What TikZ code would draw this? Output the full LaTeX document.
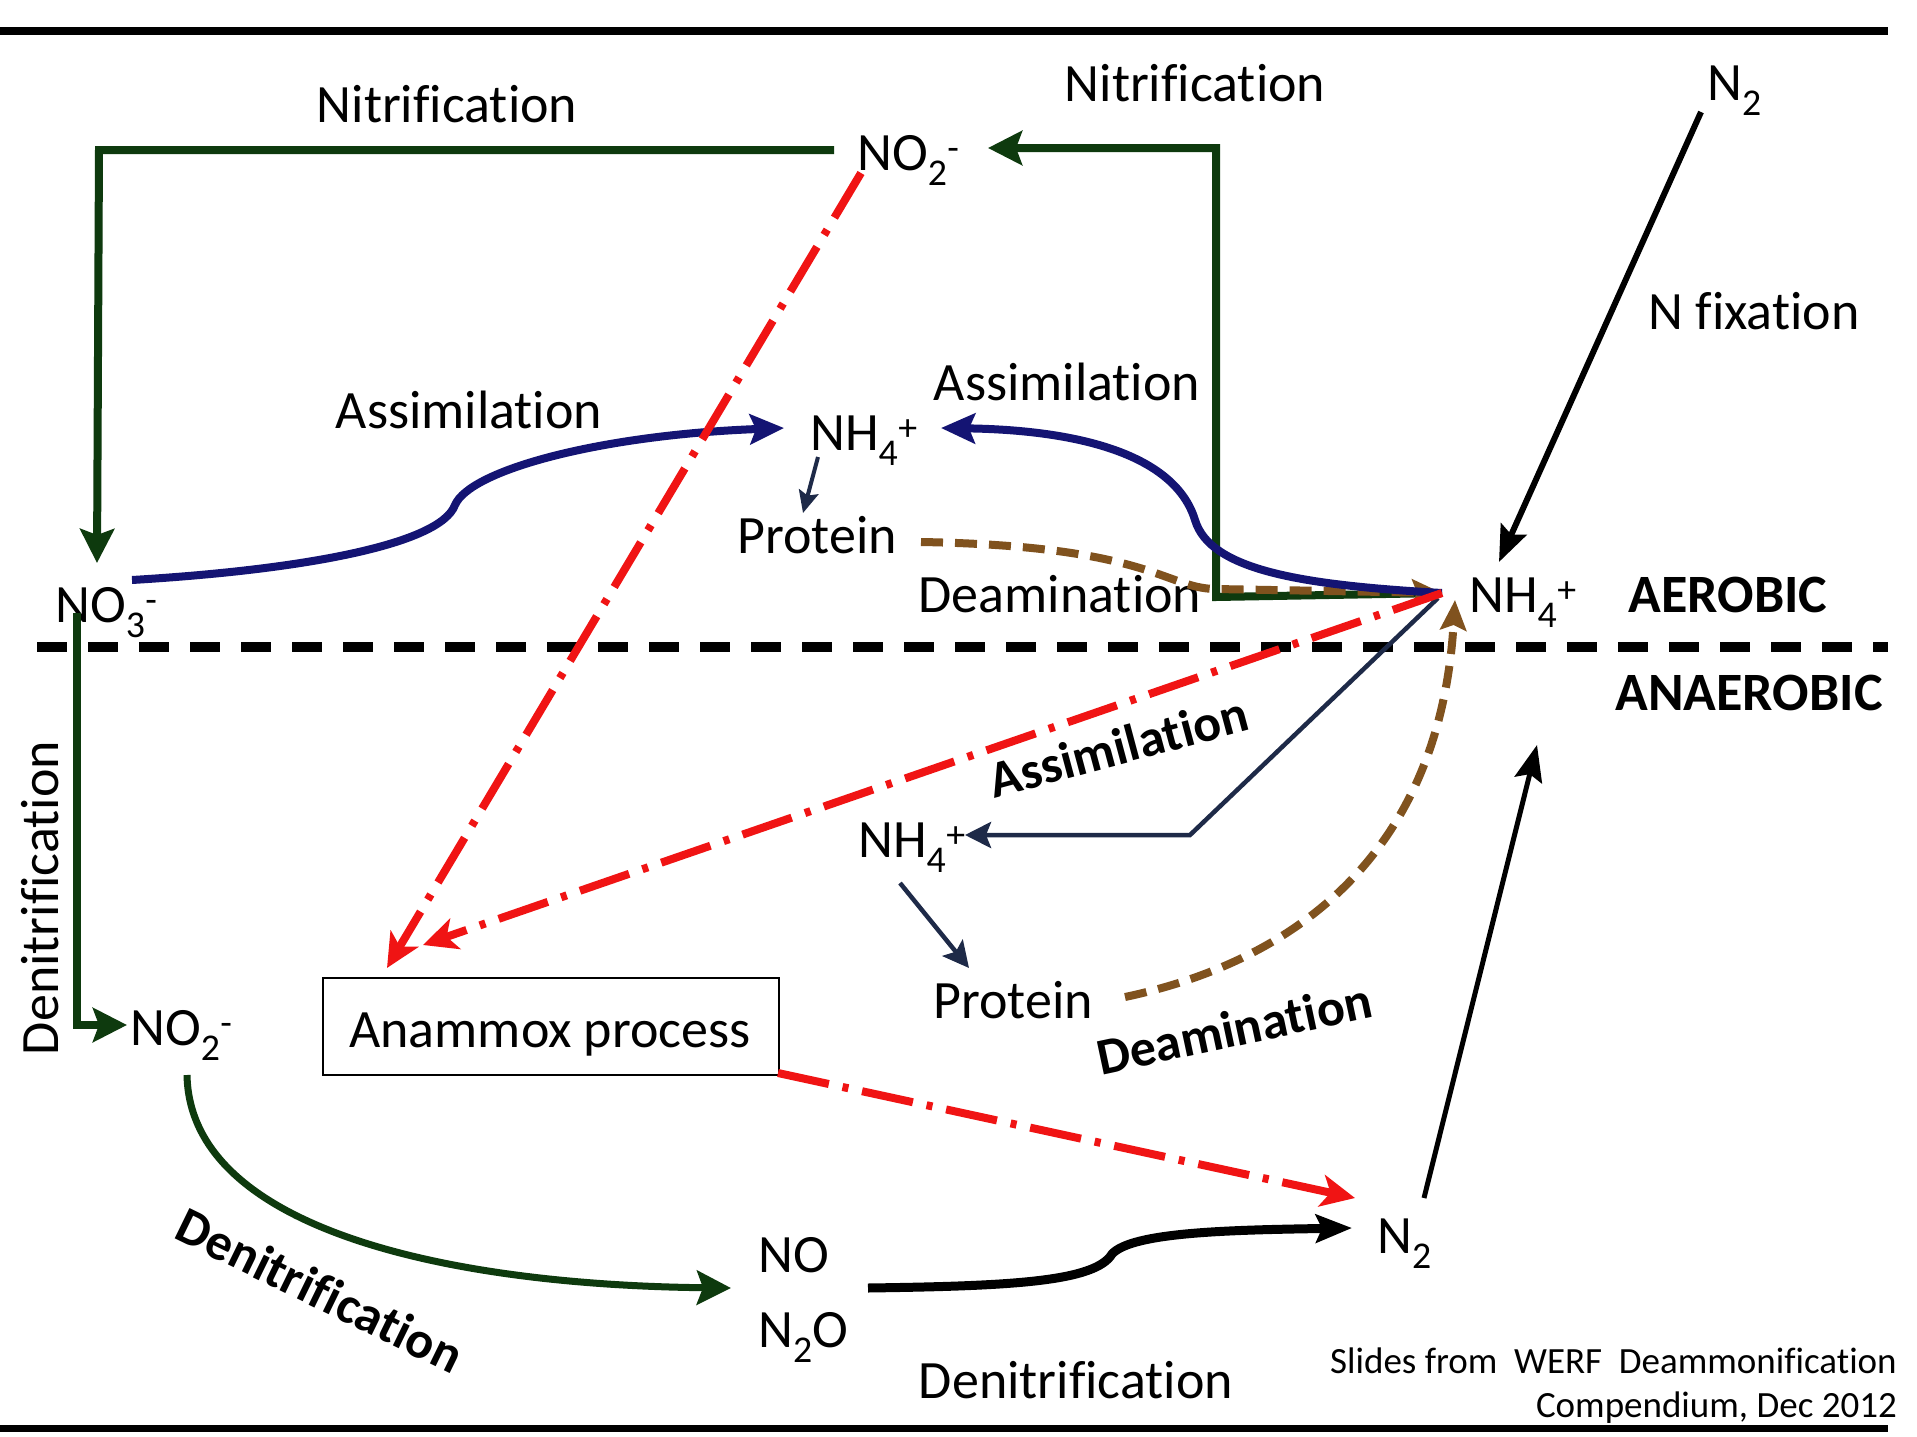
\documentclass[tikz,border=0pt]{standalone}
\usepackage{fontspec}
\setmainfont{Carlito}[Ligatures=CommonOff]
\usetikzlibrary{arrows.meta}
\definecolor{dgreen}{RGB}{14,58,14}
\definecolor{navyb}{RGB}{20,20,115}
\definecolor{slate}{RGB}{30,42,72}
\definecolor{brn}{RGB}{128,82,30}
\definecolor{rd}{RGB}{240,20,20}
\begin{document}
\begin{tikzpicture}[x=1pt,y=-1pt,
  lbl/.style={font=\fontsize{54}{60}\selectfont, inner sep=0pt},
  bl/.style={font=\fontsize{54}{60}\selectfont\bfseries, inner sep=0pt},
  blr/.style={font=\fontsize{52}{58}\selectfont\bfseries, inner sep=0pt},
  smalltxt/.style={font=\fontsize{37}{42}\selectfont, inner sep=0pt},
  gpath/.style={draw=dgreen, line width=8pt, -{Stealth[length=34pt,width=34pt,inset=6pt]}},
  bpath/.style={draw=navyb, line width=8pt, -{Stealth[length=34pt,width=30pt,inset=6pt]}},
  spath/.style={draw=slate, line width=4.5pt, -{Stealth[length=26pt,width=26pt,inset=5pt]}},
  brpath/.style={draw=brn, line width=8pt, dash pattern=on 22pt off 12pt, -{Stealth[length=30pt,width=26pt,inset=5pt]}},
  rpath/.style={draw=rd, line width=8pt, dash pattern=on 52pt off 14pt on 6pt off 14pt, -{Stealth[length=34pt,width=32pt,inset=9pt]}},
  kpath/.style={draw=black, line width=6pt, -{Stealth[length=36pt,width=28pt,inset=6pt]}},
]
\useasboundingbox (0,0) rectangle (1917,1437);
\fill[white] (0,0) rectangle (1917,1437);

% frame lines
\coordinate (tl) at (0,31); \coordinate (tr) at (1888,31);
\coordinate (bl) at (0,1428); \coordinate (br) at (1888,1428);
\coordinate (dl) at (37,647); \coordinate (dr) at (1888,647);
\draw[line width=8pt] (tl) -- (tr);
\draw[line width=7pt] (bl) -- (br);
\draw[line width=10pt, dash pattern=on 30pt off 21pt] (dl) -- (dr);

% labels
\node[lbl, anchor=base] (nitL) at (447,122) {Nitrification};
\node[lbl, anchor=base] (nitR) at (1195,102) {Nitrification};
\node[lbl, anchor=base west] (no2t) at (857,170) {NO\textsubscript{2}\textsuperscript{-}};
\node[lbl, anchor=base west] (n2t) at (1707,100) {N\textsubscript{2}};
\node[lbl, anchor=base] (nfix) at (1754,329) {N fixation};
\node[lbl, anchor=base] (asUL) at (469,428) {Assimilation};
\node[lbl, anchor=base west] (nh4u) at (810,450) {NH\textsubscript{4}\textsuperscript{+}};
\node[lbl, anchor=base] (asUR) at (1067,400) {Assimilation};
\node[lbl, anchor=base west] (protU) at (737,553) {Protein};
\node[lbl, anchor=base] (deamU) at (1060,612) {Deamination};
\node[lbl, anchor=base west] (nh4a) at (1469,612) {NH\textsubscript{4}\textsuperscript{+}};
\node[bl, anchor=base] (aer) at (1728,612) {AEROBIC};
\node[bl, anchor=base] (anaer) at (1749,710) {ANAEROBIC};
\node[lbl, anchor=base west] (no3) at (55,622) {NO\textsubscript{3}\textsuperscript{-}};
\node[lbl, anchor=base, rotate=90] (denV) at (58,898) {Denitrification};
\node[lbl, anchor=base west] (no2l) at (130,1045) {NO\textsubscript{2}\textsuperscript{-}};
\node[draw, line width=2pt, minimum width=456pt, minimum height=97pt, anchor=north west, inner sep=0pt] (anam) at (322,977) {};
\node[lbl, anchor=base] (anamt) at (550,1047) {Anammox process};
\node[lbl, anchor=base west] (protL) at (933,1018) {Protein};
\node[lbl, anchor=base west] (nh4l) at (858,857) {NH\textsubscript{4}\textsuperscript{+}};
\node[blr, rotate=15, anchor=base] (asL) at (1123,764) {Assimilation};
\node[blr, rotate=12, anchor=base] (deamL) at (1238,1046) {Deamination};
\node[blr, rotate=-26, anchor=center] (denL) at (320,1290) {Denitrification};
\node[lbl, anchor=base west] (no) at (758,1272) {NO};
\node[lbl, anchor=base west] (n2o) at (758,1347) {N\textsubscript{2}O};
\node[lbl, anchor=base west] (n2l) at (1377,1253) {N\textsubscript{2}};
\node[lbl, anchor=base] (denB) at (1076,1398) {Denitrification};
\node[smalltxt, anchor=base east] (src1) at (1897,1373) {Slides from\ \ WERF\ \ Deammonification};
\node[smalltxt, anchor=base east] (src2) at (1897,1417) {Compendium, Dec 2012};

% connector end points
\coordinate (no2tW) at (834,150);
\coordinate (no3N) at (97,563);
\coordinate (no3S) at (77,613);
\coordinate (no2lW) at (127,1025);
\coordinate (no2lS) at (187,1075);
\coordinate (noW) at (731,1288);
\coordinate (n2oE) at (868,1288);
\coordinate (n2lW) at (1352,1228);
\coordinate (n2lN) at (1424,1198);
\coordinate (upArrow) at (1537,745);
\coordinate (nh4aW) at (1442,593);
\coordinate (nh4aS) at (1455,600);
\coordinate (nh4aN) at (1499,562);
\coordinate (n2tS) at (1701,112);
\coordinate (no2tE) at (988,148);
\coordinate (nh4uW) at (784,428);
\coordinate (nh4uE) at (941,428);
\coordinate (nh4uS) at (818,457);
\coordinate (protUN) at (803,513);
\coordinate (protUE) at (921,542);
\coordinate (no3E) at (132,580);
\coordinate (nh4lE) at (965,835);
\coordinate (nh4lS) at (900,883);
\coordinate (protLN) at (969,968);
\coordinate (protLE) at (1125,997);
\coordinate (no2tS) at (861,173);
\coordinate (anamN) at (387,968);
\coordinate (anamNE) at (423,945);
\coordinate (anamSE) at (778,1073);
\coordinate (n2lNW) at (1355,1198);

% nitrification
\draw[gpath] (no2tW) -- (99,150) -- (no3N);
\draw[gpath] (nh4aW) -- (1216,597) -- (1216,148) -- (no2tE);
% denitrification
\draw[gpath] (no3S) -- (77,1025) -- (no2lW);
\draw[gpath, line width=7pt] (no2lS) .. controls (190,1230) and (450,1285) .. (noW);
\draw[kpath, line width=9pt] (n2oE) .. controls (1010,1286) and (1095,1282) .. (1112,1254) .. controls (1132,1232) and (1230,1230) .. (n2lW);
\draw[kpath, line width=5pt] (n2lN) -- (upArrow);
% N fixation
\draw[kpath] (n2tS) -- (nh4aN);

% assimilation
\draw[bpath] (no3E) .. controls (300,570) and (440,545) .. (455,505) .. controls (470,470) and (600,435) .. (nh4uW);
\draw[brpath] (protUE) .. controls (1150,546) and (1165,588) .. (1215,589) -- (nh4aW);
\draw[bpath] (nh4aW) .. controls (1300,585) and (1210,570) .. (1195,520) .. controls (1175,455) and (1080,430) .. (nh4uE);
\draw[spath, line width=4pt, -{Stealth[length=22pt,width=20pt,inset=4pt]}] (nh4uS) -- (protUN);
\draw[spath] (1438,598) -- (1190,835) -- (nh4lE);
\draw[spath] (nh4lS) -- (protLN);
\draw[brpath] (protLE) .. controls (1300,960) and (1440,850) .. (nh4aS);

% anammox
\draw[rpath] (no2tS) -- (anamN);
\draw[rpath] (nh4aW) -- (anamNE);
\draw[rpath] (anamSE) -- (n2lNW);
\end{tikzpicture}
\end{document}
